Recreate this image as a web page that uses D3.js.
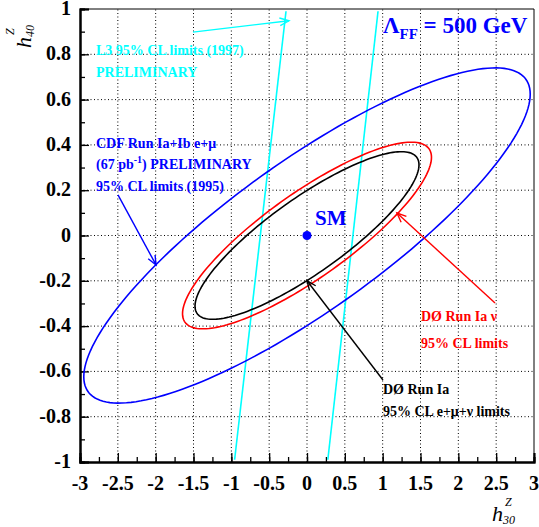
<!DOCTYPE html>
<html><head><meta charset="utf-8">
<script src="https://cdn.jsdelivr.net/npm/d3@7"></script>
<style>
body{margin:0;background:#fff;}
svg{display:block;}
text{font-family:"Liberation Serif","Times New Roman",serif;}
</style></head>
<body>
<svg id="c" width="539" height="527"></svg>
<script>
// ---- data ----
const xTicks = [-3,-2.5,-2,-1.5,-1,-0.5,0,0.5,1,1.5,2,2.5,3];
const yTicks = [-1,-0.8,-0.6,-0.4,-0.2,0,0.2,0.4,0.6,0.8,1];
const xTickLabels = ["-3","-2.5","-2","-1.5","-1","-0.5","0","0.5","1","1.5","2","2.5","3"];
const yTickLabels = ["-1","-0.8","-0.6","-0.4","-0.2","0","0.2","0.4","0.6","0.8","1"];
// 95% CL contours (ellipses around SM): max |h30|, max |h40|, correlation cos(delta)
const contourNames = ["CDF Run Ia+Ib e+mu","DO Run Ia nu","DO Run Ia e+mu+nu"];
const contourH30Max = [2.95, 1.645, 1.48];
const contourH40Max = [0.74, 0.412, 0.37];
const contourCorr   = [0.843, 0.838, 0.843];
const contourColors = ["#0000ff","#ff0000","#000000"];
// L3 limits: two nearly vertical lines  h30 = a + b*h40
const l3Intercept = [-0.617, 0.607];
const l3Slope     = [0.343, 0.335];
const l3H40Range  = [-0.99, 0.99];
// Standard Model point
const smPoint = [0, 0];

// ---- layout ----
const svg = d3.select("#c");
const x = d3.scaleLinear().domain([-3,3]).range([80,534]);
const y = d3.scaleLinear().domain([-1,1]).range([462,9]);

// grid
const g = svg.append("g");
g.selectAll("line.gx").data(xTicks.filter(v=>v>-3&&v<3)).enter().append("line")
 .attr("x1",d=>x(d)).attr("x2",d=>x(d)).attr("y1",y(-1)).attr("y2",y(1))
 .attr("stroke","#000").attr("stroke-width",1).attr("stroke-dasharray","1,2.5");
g.selectAll("line.gy").data(yTicks.filter(v=>v>-1&&v<1)).enter().append("line")
 .attr("y1",d=>y(d)).attr("y2",d=>y(d)).attr("x1",x(-3)).attr("x2",x(3))
 .attr("stroke","#000").attr("stroke-width",1).attr("stroke-dasharray","1,2.5");

// frame top/right
svg.append("line").attr("x1",x(-3)).attr("x2",x(3)).attr("y1",y(1)).attr("y2",y(1)).attr("stroke","#000").attr("stroke-width",1);
svg.append("line").attr("x1",x(3)).attr("x2",x(3)).attr("y1",y(1)).attr("y2",y(-1)).attr("stroke","#000").attr("stroke-width",1);

// axes with inward ticks
const xMinor = d3.range(-3,3.001,0.25);
const yMinor = d3.range(-1,1.001,0.1);
const xAxisMinor = d3.axisTop(x).tickValues(xMinor).tickSize(5).tickFormat("");
const xAxis = d3.axisTop(x).tickValues(xTicks).tickSize(9).tickFormat("");
const yAxisMinor = d3.axisRight(y).tickValues(yMinor).tickSize(5).tickFormat("");
const yAxis = d3.axisRight(y).tickValues(yTicks).tickSize(9).tickFormat("");
function styleAx(s){s.select(".domain").attr("stroke","#000").attr("stroke-width",2);s.selectAll(".tick line").attr("stroke","#000").attr("stroke-width",1.3);}
svg.append("g").attr("transform",`translate(0,${y(-1)})`).call(xAxisMinor).call(styleAx);
svg.append("g").attr("transform",`translate(0,${y(-1)})`).call(xAxis).call(styleAx);
svg.append("g").attr("transform",`translate(${x(-3)},0)`).call(yAxisMinor).call(styleAx);
svg.append("g").attr("transform",`translate(${x(-3)},0)`).call(yAxis).call(styleAx);

// tick labels
svg.selectAll("text.xl").data(xTicks).enter().append("text")
 .attr("x",d=>x(d)).attr("y",y(-1)+28).attr("text-anchor","middle")
 .attr("font-weight","bold").attr("font-size",20).text((d,i)=>xTickLabels[i]);
svg.selectAll("text.yl").data(yTicks).enter().append("text")
 .attr("x",x(-3)-9).attr("y",d=>y(d)+6).attr("text-anchor","end")
 .attr("font-weight","bold").attr("font-size",20).text((d,i)=>yTickLabels[i]);

// axis titles
const xt = svg.append("g").attr("transform","translate(492,521)");
xt.append("text").attr("font-style","italic").attr("font-size",22).text("h");
xt.append("text").attr("x",13).attr("y",-15).attr("font-style","italic").attr("font-size",12).text("Z");
xt.append("text").attr("x",11).attr("y",3).attr("font-style","italic").attr("font-size",12).text("30");
const yt = svg.append("g").attr("transform","translate(31,48) rotate(-90)");
yt.append("text").attr("font-style","italic").attr("font-size",22).text("h");
yt.append("text").attr("x",13).attr("y",-17).attr("font-style","italic").attr("font-size",12).text("Z");
yt.append("text").attr("x",11).attr("y",3).attr("font-style","italic").attr("font-size",12).text("40");

// clip
svg.append("clipPath").attr("id","pc").append("rect")
 .attr("x",x(-3)).attr("y",y(1)).attr("width",x(3)-x(-3)).attr("height",y(-1)-y(1));
const plot = svg.append("g").attr("clip-path","url(#pc)");

// L3 lines
const lineGen = d3.line().x(d=>x(d[0])).y(d=>y(d[1]));
l3Intercept.forEach((a,i)=>{
  const pts = l3H40Range.map(h=>[a+l3Slope[i]*h, h]);
  plot.append("path").attr("d",lineGen(pts)).attr("stroke","#00ffff").attr("stroke-width",1.6).attr("fill","none");
});

// contours
const tt = d3.range(0,361,2).map(v=>v*Math.PI/180);
contourNames.forEach((n,i)=>{
  const d = Math.acos(contourCorr[i]);
  const pts = tt.map(t=>[contourH30Max[i]*Math.cos(t), contourH40Max[i]*Math.cos(t+d)]);
  plot.append("path").attr("d",lineGen.curve(d3.curveLinearClosed)(pts))
   .attr("stroke",contourColors[i]).attr("stroke-width",1.6).attr("fill","none");
});

// SM point
svg.append("circle").attr("cx",x(smPoint[0])).attr("cy",y(smPoint[1])).attr("r",4.5).attr("fill","#0000ff");

// arrows
function arrow(from,to,color){
  const x1=x(from[0]),y1=y(from[1]),x2=x(to[0]),y2=y(to[1]);
  svg.append("line").attr("x1",x1).attr("y1",y1).attr("x2",x2).attr("y2",y2).attr("stroke",color).attr("stroke-width",1.4);
  const a=Math.atan2(y2-y1,x2-x1), L=10, w=0.4;
  const p=d3.path();
  p.moveTo(x2-L*Math.cos(a-w),y2-L*Math.sin(a-w)); p.lineTo(x2,y2);
  p.lineTo(x2-L*Math.cos(a+w),y2-L*Math.sin(a+w));
  svg.append("path").attr("d",p.toString()).attr("stroke",color).attr("stroke-width",1.4).attr("fill","none");
}
arrow([-1.507,0.898],[-0.238,0.948],"#00ffff");
arrow([-2.498,0.179],[-1.995,-0.13],"#0000ff");
arrow([2.485,-0.298],[1.189,0.099],"#ff0000");
arrow([1.004,-0.638],[0.0,-0.2],"#000000");

// labels
function lab(px,py,txt,color,size){
  return svg.append("text").attr("x",px).attr("y",py).attr("fill",color).attr("font-weight","bold").attr("font-size",size||14).text(txt);
}
lab(96,55,"L3 95% CL limits (1997)","#00ffff");
lab(96,77,"PRELIMINARY","#00ffff");
lab(96,148,"CDF Run Ia+Ib e+\u03bc","#0000ff");
const t2 = lab(96,169,"","#0000ff");
t2.append("tspan").text("(67 pb");
t2.append("tspan").attr("dy",-6).attr("font-size",10).text("-1");
t2.append("tspan").attr("dy",6).text(") PRELIMINARY");
lab(96,191,"95% CL limits (1995)","#0000ff");
const lam = lab(383,33,"","#0000ff",23);
lam.append("tspan").text("\u039b");
lam.append("tspan").attr("dy",6).attr("font-size",15).text("FF");
lam.append("tspan").attr("dy",-6).text(" = 500 GeV");
lab(315,225,"SM","#0000ff",21);
lab(421,321,"D\u00d8 Run Ia \u03bd","#ff0000");
lab(421,348,"95% CL limits","#ff0000");
lab(383,394,"D\u00d8 Run Ia","#000000");
lab(383,416,"95% CL e+\u03bc+\u03bd limits","#000000");
</script>
</body></html>
